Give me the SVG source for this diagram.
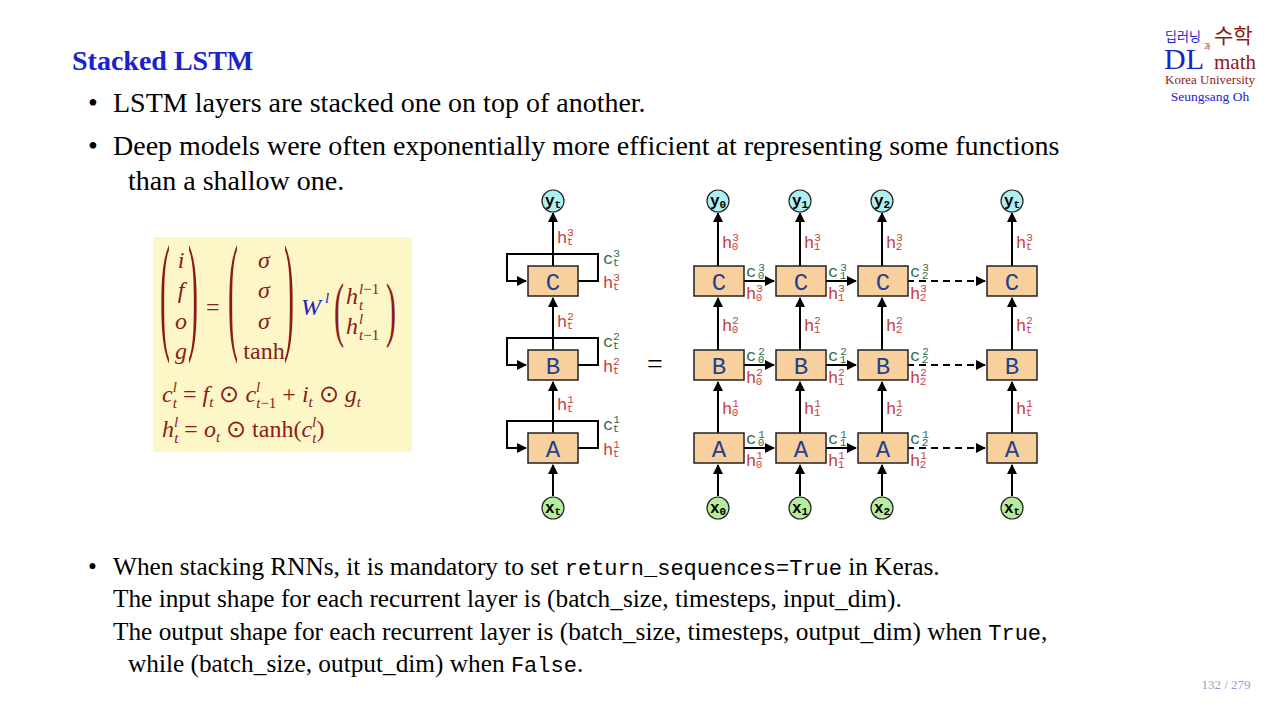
<svg xmlns="http://www.w3.org/2000/svg" width="1280" height="715" viewBox="0 0 1280 715">
<defs>
<marker id="ah" viewBox="0 0 10 10" refX="9" refY="5" markerWidth="5" markerHeight="5" orient="auto"><path d="M0,0 L10,5 L0,10 z" fill="#000"/></marker>
<style>
.t{font-family:"Liberation Serif",serif;font-size:28px;fill:#000}
.t2{font-family:"Liberation Serif",serif;font-size:25.3px;fill:#000}
.m{font-family:"Liberation Mono",monospace}
.box{fill:#f7d09e;stroke:#222;stroke-width:1.5}
.bl{font-family:"Liberation Mono",monospace;font-size:24px;fill:#1f3f8f;text-anchor:middle}
.ln{stroke:#000;stroke-width:2;fill:none}
.hr{font-family:"Liberation Mono",monospace;font-size:17px;fill:#c83c3c}
.cg{font-family:"Liberation Mono",monospace;font-size:17px;fill:#2e6b4b}
.sp{font-size:11px}
.y{fill:#aeeff2;stroke:#222;stroke-width:1.2}
.x{fill:#b4ee9c;stroke:#222;stroke-width:1.2}
.cl{font-family:"Liberation Mono",monospace;font-size:16px;font-weight:bold;fill:#000;text-anchor:middle}
.f{font-family:"Liberation Serif",serif;font-size:24px;fill:#8b1a1a}
.fi{font-style:italic}
.s{font-size:15px}
</style>
</defs>
<rect width="1280" height="715" fill="#fff"/>
<text x="72" y="70" font-family="Liberation Serif,serif" font-size="28" font-weight="bold" fill="#1a22cc">Stacked LSTM</text>
<g id="logo" font-family="Liberation Serif,serif">
<text x="1165" y="41" font-family="Noto Sans CJK KR,sans-serif" font-size="13" fill="#1a22cc">딥러닝</text>
<text x="1204" y="49" font-family="Noto Sans CJK KR,sans-serif" font-size="7" fill="#8b1a1a">과</text>
<text x="1214" y="43" font-family="Noto Sans CJK KR,sans-serif" font-size="21" fill="#8b1a1a">수학</text>
<text x="1164" y="69" font-size="30" fill="#1a22cc">DL</text>
<text x="1214" y="69" font-size="21" fill="#8b1a1a">math</text>
<text x="1210" y="84" font-size="13" fill="#8b1a1a" text-anchor="middle">Korea University</text>
<text x="1210" y="101" font-size="13.5" fill="#1a22cc" text-anchor="middle">Seungsang Oh</text>
</g>
<g id="bullets1">
<text x="88" y="112" class="t">•</text><text x="113" y="112" class="t">LSTM layers are stacked one on top of another.</text>
<text x="88" y="155" class="t">•</text><text x="113" y="155" class="t">Deep models were often exponentially more efficient at representing some functions</text>
<text x="128" y="190" class="t">than a shallow one.</text>
</g>
<g id="formula">
<rect x="153" y="237" width="259" height="215" fill="#fdf6c6"/>
<g class="f">
<g font-size="30">
<text transform="translate(160,336) scale(1,4.4)">(</text>
<text transform="translate(188,336) scale(1,4.4)">)</text>
<text transform="translate(228,336) scale(1,4.4)">(</text>
<text transform="translate(284,336) scale(1,4.4)">)</text>
<text transform="translate(334,333) scale(1,2.4)">(</text>
<text transform="translate(386,333) scale(1,2.4)">)</text>
</g>
<text x="181" y="268" class="fi" text-anchor="middle">i</text>
<text x="181" y="298" class="fi" text-anchor="middle">f</text>
<text x="181" y="329" class="fi" text-anchor="middle">o</text>
<text x="181" y="359" class="fi" text-anchor="middle">g</text>
<text x="206" y="315">=</text>
<text x="264" y="268" text-anchor="middle" class="fi">σ</text>
<text x="264" y="298" text-anchor="middle" class="fi">σ</text>
<text x="264" y="329" text-anchor="middle" class="fi">σ</text>
<text x="264" y="359" text-anchor="middle">tanh</text>
<text x="301" y="315" class="fi" style="fill:#1a22cc">W</text>
<text x="325" y="303" class="fi s" style="fill:#1a22cc">l</text>
<text x="346" y="304" class="fi">h</text><text x="359" y="294" class="s"><tspan class="fi">l</tspan>−1</text><text x="359" y="310" class="s fi">t</text>
<text x="346" y="334" class="fi">h</text><text x="359" y="324" class="s fi">l</text><text x="359" y="340" class="s"><tspan class="fi">t</tspan>−1</text>
<text x="162" y="402"><tspan class="fi">c</tspan><tspan class="s fi" dy="-10">l</tspan><tspan class="s fi" dy="16" dx="-4">t</tspan><tspan dy="-6"> = </tspan><tspan class="fi">f</tspan><tspan class="s fi" dy="5">t</tspan><tspan dy="-5"> ⊙ </tspan><tspan class="fi">c</tspan><tspan class="s fi" dy="-10">l</tspan><tspan class="s" dy="16" dx="-4"><tspan class="fi">t</tspan>−1</tspan><tspan dy="-6"> + </tspan><tspan class="fi">i</tspan><tspan class="s fi" dy="5">t</tspan><tspan dy="-5"> ⊙ </tspan><tspan class="fi">g</tspan><tspan class="s fi" dy="5">t</tspan></text>
<text x="162" y="437"><tspan class="fi">h</tspan><tspan class="s fi" dy="-10">l</tspan><tspan class="s fi" dy="16" dx="-4">t</tspan><tspan dy="-6"> = </tspan><tspan class="fi">o</tspan><tspan class="s fi" dy="5">t</tspan><tspan dy="-5"> ⊙ tanh(</tspan><tspan class="fi">c</tspan><tspan class="s fi" dy="-10">l</tspan><tspan class="s fi" dy="16" dx="-4">t</tspan><tspan dy="-6">)</tspan></text>
</g>
</g>
<g id="connectors">
<path class="ln" d="M553,266 V213" marker-end="url(#ah)"/>
<path class="ln" d="M553,350 V298" marker-end="url(#ah)"/>
<path class="ln" d="M553,433 V382" marker-end="url(#ah)"/>
<path class="ln" d="M553,496 V465" marker-end="url(#ah)"/>
<path class="ln" d="M577,281 H598 V254 H507 V281 H526" marker-end="url(#ah)"/>
<path class="ln" d="M577,365 H598 V338 H507 V365 H526" marker-end="url(#ah)"/>
<path class="ln" d="M577,448 H598 V421 H507 V448 H526" marker-end="url(#ah)"/>
<path class="ln" d="M718,266 V213" marker-end="url(#ah)"/><path class="ln" d="M718,350 V298" marker-end="url(#ah)"/><path class="ln" d="M718,433 V382" marker-end="url(#ah)"/><path class="ln" d="M718,496 V465" marker-end="url(#ah)"/>
<path class="ln" d="M800,266 V213" marker-end="url(#ah)"/><path class="ln" d="M800,350 V298" marker-end="url(#ah)"/><path class="ln" d="M800,433 V382" marker-end="url(#ah)"/><path class="ln" d="M800,496 V465" marker-end="url(#ah)"/>
<path class="ln" d="M882,266 V213" marker-end="url(#ah)"/><path class="ln" d="M882,350 V298" marker-end="url(#ah)"/><path class="ln" d="M882,433 V382" marker-end="url(#ah)"/><path class="ln" d="M882,496 V465" marker-end="url(#ah)"/>
<path class="ln" d="M1012,266 V213" marker-end="url(#ah)"/><path class="ln" d="M1012,350 V298" marker-end="url(#ah)"/><path class="ln" d="M1012,433 V382" marker-end="url(#ah)"/><path class="ln" d="M1012,496 V465" marker-end="url(#ah)"/>
<path class="ln" d="M743,281 H774" marker-end="url(#ah)"/><path class="ln" d="M743,365 H774" marker-end="url(#ah)"/><path class="ln" d="M743,448 H774" marker-end="url(#ah)"/>
<path class="ln" d="M825,281 H856" marker-end="url(#ah)"/><path class="ln" d="M825,365 H856" marker-end="url(#ah)"/><path class="ln" d="M825,448 H856" marker-end="url(#ah)"/>
<path class="ln" d="M907,281 H985" stroke-dasharray="7,5" marker-end="url(#ah)"/><path class="ln" d="M907,365 H985" stroke-dasharray="7,5" marker-end="url(#ah)"/><path class="ln" d="M907,448 H985" stroke-dasharray="7,5" marker-end="url(#ah)"/>
</g>
<g id="nodes">
<g id="L"><rect class="box" x="528" y="266" width="50" height="30"/><text class="bl" x="553" y="290">C</text>
<rect class="box" x="528" y="350" width="50" height="30"/><text class="bl" x="553" y="374">B</text>
<rect class="box" x="528" y="433" width="50" height="30"/><text class="bl" x="553" y="457">A</text>
<circle class="y" cx="553" cy="201" r="11"/><text class="cl" x="553" y="206">y<tspan class="sp" dy="2">t</tspan></text>
<circle class="x" cx="553" cy="508" r="11"/><text class="cl" x="553" y="513">x<tspan class="sp" dy="2">t</tspan></text></g>
<g id="c0"><rect class="box" x="694" y="266" width="50" height="30"/><text class="bl" x="719" y="290">C</text>
<rect class="box" x="694" y="350" width="50" height="30"/><text class="bl" x="719" y="374">B</text>
<rect class="box" x="694" y="433" width="50" height="30"/><text class="bl" x="719" y="457">A</text>
<circle class="y" cx="718" cy="201" r="11"/><text class="cl" x="718" y="206">y<tspan class="sp" dy="2">0</tspan></text>
<circle class="x" cx="718" cy="508" r="11"/><text class="cl" x="718" y="513">x<tspan class="sp" dy="2">0</tspan></text></g>
<g id="c1"><rect class="box" x="776" y="266" width="50" height="30"/><text class="bl" x="801" y="290">C</text>
<rect class="box" x="776" y="350" width="50" height="30"/><text class="bl" x="801" y="374">B</text>
<rect class="box" x="776" y="433" width="50" height="30"/><text class="bl" x="801" y="457">A</text>
<circle class="y" cx="800" cy="201" r="11"/><text class="cl" x="800" y="206">y<tspan class="sp" dy="2">1</tspan></text>
<circle class="x" cx="800" cy="508" r="11"/><text class="cl" x="800" y="513">x<tspan class="sp" dy="2">1</tspan></text></g>
<g id="c2"><rect class="box" x="858" y="266" width="50" height="30"/><text class="bl" x="883" y="290">C</text>
<rect class="box" x="858" y="350" width="50" height="30"/><text class="bl" x="883" y="374">B</text>
<rect class="box" x="858" y="433" width="50" height="30"/><text class="bl" x="883" y="457">A</text>
<circle class="y" cx="882" cy="201" r="11"/><text class="cl" x="882" y="206">y<tspan class="sp" dy="2">2</tspan></text>
<circle class="x" cx="882" cy="508" r="11"/><text class="cl" x="882" y="513">x<tspan class="sp" dy="2">2</tspan></text></g>
<g id="ct"><rect class="box" x="987" y="266" width="50" height="30"/><text class="bl" x="1012" y="290">C</text>
<rect class="box" x="987" y="350" width="50" height="30"/><text class="bl" x="1012" y="374">B</text>
<rect class="box" x="987" y="433" width="50" height="30"/><text class="bl" x="1012" y="457">A</text>
<circle class="y" cx="1012" cy="201" r="11"/><text class="cl" x="1012" y="206">y<tspan class="sp" dy="2">t</tspan></text>
<circle class="x" cx="1012" cy="508" r="11"/><text class="cl" x="1012" y="513">x<tspan class="sp" dy="2">t</tspan></text></g>
</g>
<g id="labels">
<text class="hr" x="557" y="243">h<tspan class="sp" dy="-7">3</tspan><tspan class="sp" dx="-7" dy="9">t</tspan></text>
<text class="hr" x="557" y="327">h<tspan class="sp" dy="-7">2</tspan><tspan class="sp" dx="-7" dy="9">t</tspan></text>
<text class="hr" x="557" y="410">h<tspan class="sp" dy="-7">1</tspan><tspan class="sp" dx="-7" dy="9">t</tspan></text>
<text class="cg" x="603" y="264">c<tspan class="sp" dy="-7">3</tspan><tspan class="sp" dx="-7" dy="9">t</tspan></text>
<text class="hr" x="603" y="288">h<tspan class="sp" dy="-7">3</tspan><tspan class="sp" dx="-7" dy="9">t</tspan></text>
<text class="cg" x="603" y="347">c<tspan class="sp" dy="-7">2</tspan><tspan class="sp" dx="-7" dy="9">t</tspan></text>
<text class="hr" x="603" y="372">h<tspan class="sp" dy="-7">2</tspan><tspan class="sp" dx="-7" dy="9">t</tspan></text>
<text class="cg" x="603" y="430">c<tspan class="sp" dy="-7">1</tspan><tspan class="sp" dx="-7" dy="9">t</tspan></text>
<text class="hr" x="603" y="455">h<tspan class="sp" dy="-7">1</tspan><tspan class="sp" dx="-7" dy="9">t</tspan></text>
<text x="655" y="373" font-family="Liberation Serif,serif" font-size="28" text-anchor="middle">=</text>
<text class="hr" x="722" y="248">h<tspan class="sp" dy="-7">3</tspan><tspan class="sp" dx="-7" dy="9">0</tspan></text>
<text class="hr" x="722" y="331">h<tspan class="sp" dy="-7">2</tspan><tspan class="sp" dx="-7" dy="9">0</tspan></text>
<text class="hr" x="722" y="414">h<tspan class="sp" dy="-7">1</tspan><tspan class="sp" dx="-7" dy="9">0</tspan></text>
<text class="hr" x="804" y="248">h<tspan class="sp" dy="-7">3</tspan><tspan class="sp" dx="-7" dy="9">1</tspan></text>
<text class="hr" x="804" y="331">h<tspan class="sp" dy="-7">2</tspan><tspan class="sp" dx="-7" dy="9">1</tspan></text>
<text class="hr" x="804" y="414">h<tspan class="sp" dy="-7">1</tspan><tspan class="sp" dx="-7" dy="9">1</tspan></text>
<text class="hr" x="886" y="248">h<tspan class="sp" dy="-7">3</tspan><tspan class="sp" dx="-7" dy="9">2</tspan></text>
<text class="hr" x="886" y="331">h<tspan class="sp" dy="-7">2</tspan><tspan class="sp" dx="-7" dy="9">2</tspan></text>
<text class="hr" x="886" y="414">h<tspan class="sp" dy="-7">1</tspan><tspan class="sp" dx="-7" dy="9">2</tspan></text>
<text class="hr" x="1016" y="248">h<tspan class="sp" dy="-7">3</tspan><tspan class="sp" dx="-7" dy="9">t</tspan></text>
<text class="hr" x="1016" y="331">h<tspan class="sp" dy="-7">2</tspan><tspan class="sp" dx="-7" dy="9">t</tspan></text>
<text class="hr" x="1016" y="414">h<tspan class="sp" dy="-7">1</tspan><tspan class="sp" dx="-7" dy="9">t</tspan></text>
<text class="cg" x="746" y="277">c<tspan class="sp" dy="-6" dx="2">3</tspan><tspan class="sp" dx="-7" dy="8">0</tspan></text>
<text class="hr" x="746" y="299">h<tspan class="sp" dy="-7">3</tspan><tspan class="sp" dx="-7" dy="9">0</tspan></text>
<text class="cg" x="746" y="361">c<tspan class="sp" dy="-6" dx="2">2</tspan><tspan class="sp" dx="-7" dy="8">0</tspan></text>
<text class="hr" x="746" y="383">h<tspan class="sp" dy="-7">2</tspan><tspan class="sp" dx="-7" dy="9">0</tspan></text>
<text class="cg" x="746" y="444">c<tspan class="sp" dy="-6" dx="2">1</tspan><tspan class="sp" dx="-7" dy="8">0</tspan></text>
<text class="hr" x="746" y="466">h<tspan class="sp" dy="-7">1</tspan><tspan class="sp" dx="-7" dy="9">0</tspan></text>
<text class="cg" x="828" y="277">c<tspan class="sp" dy="-6" dx="2">3</tspan><tspan class="sp" dx="-7" dy="8">1</tspan></text>
<text class="hr" x="828" y="299">h<tspan class="sp" dy="-7">3</tspan><tspan class="sp" dx="-7" dy="9">1</tspan></text>
<text class="cg" x="828" y="361">c<tspan class="sp" dy="-6" dx="2">2</tspan><tspan class="sp" dx="-7" dy="8">1</tspan></text>
<text class="hr" x="828" y="383">h<tspan class="sp" dy="-7">2</tspan><tspan class="sp" dx="-7" dy="9">1</tspan></text>
<text class="cg" x="828" y="444">c<tspan class="sp" dy="-6" dx="2">1</tspan><tspan class="sp" dx="-7" dy="8">1</tspan></text>
<text class="hr" x="828" y="466">h<tspan class="sp" dy="-7">1</tspan><tspan class="sp" dx="-7" dy="9">1</tspan></text>
<text class="cg" x="910" y="277">c<tspan class="sp" dy="-6" dx="2">3</tspan><tspan class="sp" dx="-7" dy="8">2</tspan></text>
<text class="hr" x="910" y="299">h<tspan class="sp" dy="-7">3</tspan><tspan class="sp" dx="-7" dy="9">2</tspan></text>
<text class="cg" x="910" y="361">c<tspan class="sp" dy="-6" dx="2">2</tspan><tspan class="sp" dx="-7" dy="8">2</tspan></text>
<text class="hr" x="910" y="383">h<tspan class="sp" dy="-7">2</tspan><tspan class="sp" dx="-7" dy="9">2</tspan></text>
<text class="cg" x="910" y="444">c<tspan class="sp" dy="-6" dx="2">1</tspan><tspan class="sp" dx="-7" dy="8">2</tspan></text>
<text class="hr" x="910" y="466">h<tspan class="sp" dy="-7">1</tspan><tspan class="sp" dx="-7" dy="9">2</tspan></text>
</g>
<g id="bullets2">
<text x="88" y="575" class="t2">•</text>
<text x="113" y="575" class="t2">When stacking RNNs, it is mandatory to set <tspan class="m" font-size="22">return_sequences=True</tspan> in Keras.</text>
<text x="113" y="607" class="t2">The input shape for each recurrent layer is (batch_size, timesteps, input_dim).</text>
<text x="113" y="640" class="t2">The output shape for each recurrent layer is (batch_size, timesteps, output_dim) when <tspan class="m" font-size="22">True</tspan>,</text>
<text x="128" y="672" class="t2">while (batch_size, output_dim) when <tspan class="m" font-size="22">False</tspan>.</text>
</g>
<text x="1226" y="689" font-family="Liberation Serif,serif" font-size="13" fill="#9a9ad0" text-anchor="middle">132 / 279</text>
</svg>
